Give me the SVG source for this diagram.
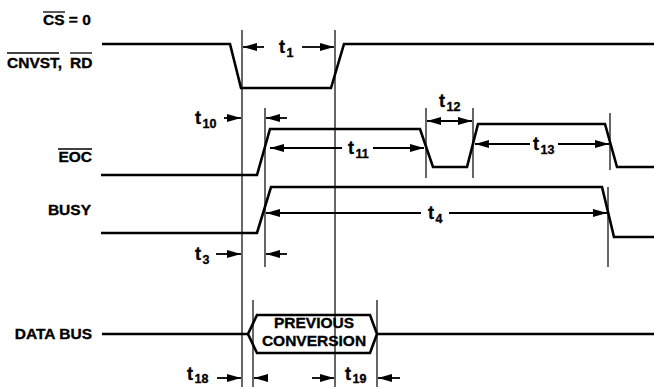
<svg xmlns="http://www.w3.org/2000/svg" width="654" height="387" viewBox="0 0 654 387">
<defs>
<marker id="ah" markerUnits="userSpaceOnUse" markerWidth="15" markerHeight="9" refX="14" refY="4" orient="auto">
<path d="M0,0 L14,4 L0,8 z" fill="#000"/>
</marker>
<marker id="ahs" markerUnits="userSpaceOnUse" markerWidth="15" markerHeight="9" refX="0" refY="4" orient="auto">
<path d="M14,0 L0,4 L14,8 z" fill="#000"/>
</marker>
</defs>
<style>
text{font-family:"Liberation Sans",Arial,sans-serif;font-weight:bold;fill:#000;stroke:#000;stroke-width:0.35}
.lbl{font-size:15.5px}
.t{font-size:18px}
.sub{font-size:12.5px}
.wave{fill:none;stroke:#000;stroke-width:2.6;stroke-linejoin:miter}
.vl{stroke:#000;stroke-width:1.2;fill:none}
.ob{stroke:#000;stroke-width:1.3}
.arr{stroke:#000;stroke-width:1.8;fill:none;marker-end:url(#ah)}
.dbl{stroke:#000;stroke-width:1.8;fill:none;marker-end:url(#ah);marker-start:url(#ahs)}
</style>
<rect width="654" height="387" fill="#fff"/>

<g id="labels">
<g id="cs-label">
<text class="lbl" x="43" y="25">CS = 0</text>
<line class="ob" x1="43" y1="12" x2="65" y2="12"/>
</g>
<g id="cnvst-label">
<text class="lbl" y="68"><tspan x="7">CNVST,</tspan><tspan x="70">RD</tspan></text>
<line class="ob" x1="7" y1="53" x2="59" y2="53"/>
<line class="ob" x1="70" y1="53" x2="92" y2="53"/>
</g>
<g id="eoc-label">
<text class="lbl" x="92" y="162" text-anchor="end">EOC</text>
<line class="ob" x1="58" y1="149" x2="92" y2="149"/>
</g>
<g id="busy-label"><text class="lbl" x="91" y="215" text-anchor="end">BUSY</text></g>
<g id="databus-label"><text class="lbl" x="92" y="339" text-anchor="end">DATA BUS</text></g>
</g>

<g id="waveforms">
<g id="cnvst"><polyline class="wave" points="102,44 230,44 241,88 331,88 344,44 654,44"/></g>
<g id="eoc"><polyline class="wave" points="101,175 257,175 270,129 420,129 433,167 467,167 478,124 605,124 617,167 654,167"/></g>
<g id="busy"><polyline class="wave" points="101,233 257,233 271,187 602,187 614,237 654,237"/></g>
<g id="databus">
<polyline class="wave" points="102,334 248,334"/>
<polygon class="wave" points="248,334 257,315 370,315 377,334 370,353 257,353"/>
<polyline class="wave" points="377,334 654,334"/>
<text class="lbl" x="314" y="328" text-anchor="middle">PREVIOUS</text>
<text class="lbl" x="314" y="346" text-anchor="middle">CONVERSION</text>
</g>
</g>

<g id="connectors">
<line class="vl" x1="242" y1="30" x2="242" y2="387"/>
<line class="vl" x1="335" y1="30" x2="335" y2="387"/>
<line class="vl" x1="265" y1="108" x2="265" y2="267"/>
<line class="vl" x1="426" y1="108" x2="426" y2="178"/>
<line class="vl" x1="473" y1="108" x2="473" y2="178"/>
<line class="vl" x1="610" y1="113" x2="610" y2="170"/>
<line class="vl" x1="608" y1="187" x2="608" y2="267"/>
<line class="vl" x1="253" y1="300" x2="253" y2="387"/>
<line class="vl" x1="377" y1="300" x2="377" y2="387"/>

<line class="arr" x1="264" y1="47" x2="243" y2="47"/>
<line class="arr" x1="302" y1="47" x2="334" y2="47"/>
<line class="arr" x1="224" y1="118" x2="241" y2="118"/>
<line class="arr" x1="287" y1="118" x2="266" y2="118"/>
<line class="arr" x1="342" y1="148" x2="270" y2="148"/>
<line class="arr" x1="373" y1="148" x2="424" y2="148"/>
<line class="dbl" x1="427" y1="121" x2="472" y2="121"/>
<line class="arr" x1="530" y1="144" x2="475" y2="144"/>
<line class="arr" x1="558" y1="144" x2="609" y2="144"/>
<line class="arr" x1="421" y1="213" x2="266" y2="213"/>
<line class="arr" x1="449" y1="213" x2="607" y2="213"/>
<line class="arr" x1="216" y1="254" x2="241" y2="254"/>
<line class="arr" x1="287" y1="254" x2="266" y2="254"/>
<line class="arr" x1="217" y1="378" x2="241" y2="378"/>
<line class="arr" x1="268" y1="378" x2="254" y2="378"/>
<line class="arr" x1="312" y1="378" x2="334" y2="378"/>
<line class="arr" x1="400" y1="378" x2="378" y2="378"/>
</g>

<g id="timing-labels">
<text class="t" x="279" y="53">t<tspan class="sub" dx="1.5" dy="4">1</tspan></text>
<text class="t" x="195" y="124">t<tspan class="sub" dx="1.5" dy="4">10</tspan></text>
<text class="t" x="348" y="154">t<tspan class="sub" dx="1.5" dy="4">11</tspan></text>
<text class="t" x="439" y="107">t<tspan class="sub" dx="1.5" dy="4">12</tspan></text>
<text class="t" x="533" y="150">t<tspan class="sub" dx="1.5" dy="4">13</tspan></text>
<text class="t" x="428" y="219">t<tspan class="sub" dx="1.5" dy="4">4</tspan></text>
<text class="t" x="195" y="260">t<tspan class="sub" dx="1.5" dy="4">3</tspan></text>
<text class="t" x="187" y="380">t<tspan class="sub" dx="1.5" dy="3">18</tspan></text>
<text class="t" x="345" y="380">t<tspan class="sub" dx="1.5" dy="3">19</tspan></text>
</g>
</svg>
